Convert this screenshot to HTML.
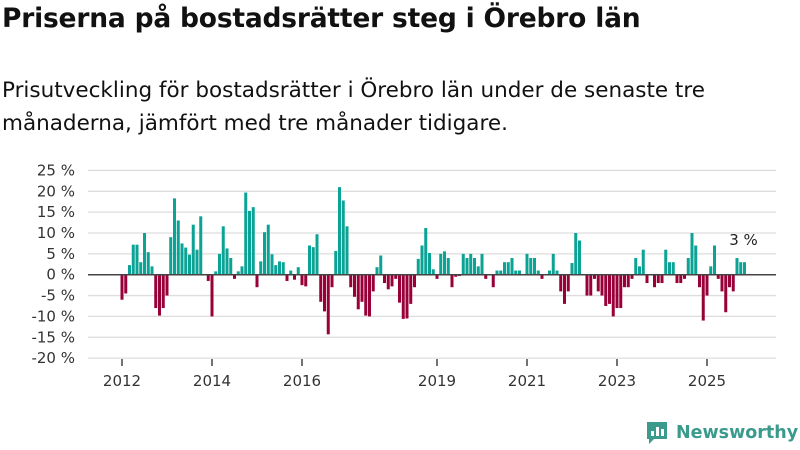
<!DOCTYPE html>
<html><head><meta charset="utf-8"><style>
body{margin:0;width:800px;height:450px;background:#fff;font-family:"Liberation Sans","DejaVu Sans",sans-serif;color:#111;overflow:hidden;position:relative}
h1{position:absolute;left:2px;top:3px;margin:0;font-size:26.5px;font-weight:bold;font-family:"DejaVu Sans","Liberation Sans",sans-serif;letter-spacing:-0.2px}
p{position:absolute;left:2px;top:74px;margin:0;font-size:21.5px;line-height:33px;font-family:"DejaVu Sans","Liberation Sans",sans-serif;width:780px}
svg{position:absolute;left:0;top:0}
</style></head><body>
<h1>Priserna på bostadsrätter steg i Örebro län</h1>
<p>Prisutveckling för bostadsrätter i Örebro län under de senaste tre<br>månaderna, jämfört med tre månader tidigare.</p>
<svg id="chart" width="800" height="450"></svg>
<div style="position:absolute;left:645px;top:420px;display:flex;align-items:center;gap:7px">
<svg width="24" height="26" style="position:static"><path d="M2 2h20v17H9l-5 5v-5H2z" fill="#3a9a8c"/><rect x="6" y="11" width="3" height="5" fill="#fff"/><rect x="11" y="7" width="3" height="9" fill="#fff"/><rect x="16" y="9" width="3" height="7" fill="#fff"/></svg>
<span style="font-size:17.5px;font-weight:bold;color:#3a9a8c;font-family:'DejaVu Sans',sans-serif">Newsworthy</span></div>
<script>
const years=["2012","2014","2016","2019","2021","2023","2025"];
const yearIndex=[0,24,48,84,108,132,156];
const yTicks=[25,20,15,10,5,0,-5,-10,-15,-20];
const values=[-6,-4.5,2.3,7.2,7.2,3,10,5.4,2,-8,-9.8,-8,-5,9,18.3,13,7.5,6.5,4.8,12,6,14,0,-1.5,-10,0.8,5,11.6,6.3,4,-1,0.8,2,19.7,15.3,16.2,-3,3.2,10.2,12,
4.9,2.3,3.2,3,-1.5,1,-1.2,1.8,-2.5,-2.8,7,6.6,9.7,-6.5,-8.8,-14.3,-3,5.7,21,17.8,11.6,-3,-5.3,-8.3,-6.5,-9.8,-10,-4,1.8,4.6,-2,-3.5,-2.8,-1,-6.7,-10.6,-10.5,-7,-3,3.8,7,11.2,5.2,1.3,
-1,5,5.6,4,-3,-0.5,-0.3,5,4,5,4,2,5,-1,0,-3,1,1,3,3,4,1,1,0,5,4,4,1,-1,0,1,5,1,-4,-7,-4,2.8,10,8.2,0,-5,-5,-1,
-4,-5,-7.5,-7,-10,-8,-8,-3,-3,-1,4,2,6,-2,0,-3,-2,-2,6,3,3,-2,-2,-1,4,10,7,-3,-11,-5,2,7,-1,-4,-9,-3,-4,4,3,3];
const lastLabel="3 %";
const NS="http://www.w3.org/2000/svg";
const svg=document.getElementById('chart');
const x0=122,step=3.75,y0=274.7,ppu=4.17;
const X=i=>x0+i*step, Y=v=>y0-v*ppu;
function mk(t,a){const e=document.createElementNS(NS,t);for(const k in a)e.setAttribute(k,a[k]);svg.appendChild(e);return e;}
yTicks.forEach(v=>{
 if(v!==0){const g=mk('line',{x1:88,x2:776,y1:Y(v),y2:Y(v),stroke:'#ddd','stroke-width':1.3});
 
 }
 const t=mk('text',{x:75,y:Y(v)+5,'text-anchor':'end','font-size':15,fill:'#333','font-family':'DejaVu Sans, sans-serif'});
 t.textContent=v+' %';
 
 
});
values.forEach((v,i)=>{
 if(v===0||v===null)return;
 const r=mk('rect',{x:X(i)-1.5,width:3,y:v>0?Y(v):y0,height:Math.abs(v)*ppu,fill:v>0?'#0aa396':'#9a0038'});
 
 
});
const z=mk('line',{x1:88,x2:776,y1:y0,y2:y0,stroke:'#444','stroke-width':1.5});


years.forEach((y,j)=>{
 const xx=X(yearIndex[j]);
 const tk=mk('line',{x1:xx,x2:xx,y1:359,y2:366,stroke:'#444','stroke-width':1.5});
 
 
 const t=mk('text',{x:xx,y:386,'text-anchor':'middle','font-size':15,fill:'#333','font-family':'DejaVu Sans, sans-serif'});
 t.textContent=y;
 
 
});
const li=values.length-1;
const lt=mk('text',{x:X(li)-1,y:Y(values[li])-17,'text-anchor':'middle','font-size':15,fill:'#222','font-family':'DejaVu Sans, sans-serif'});
lt.textContent=lastLabel;


</script>
</body></html>
